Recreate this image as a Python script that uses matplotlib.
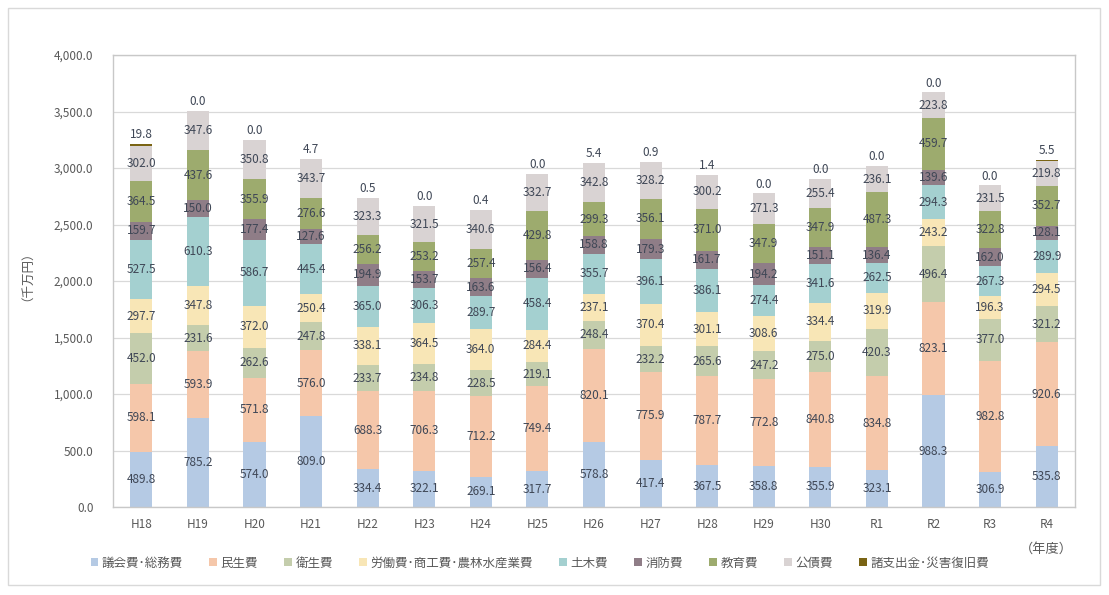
import numpy as np
import matplotlib.pyplot as plt
from matplotlib.patches import Rectangle

plt.rcParams['font.family'] = ['Noto Sans CJK JP', 'DejaVu Sans']

# 年度
years = ["H18", "H19", "H20", "H21", "H22", "H23", "H24", "H25", "H26",
         "H27", "H28", "H29", "H30", "R1", "R2", "R3", "R4"]

# 費目別 (千万円)
gikai_somu = [489.8, 785.2, 574.0, 809.0, 334.4, 322.1, 269.1, 317.7, 578.8,
              417.4, 367.5, 358.8, 355.9, 323.1, 988.3, 306.9, 535.8]
minsei = [598.1, 593.9, 571.8, 576.0, 688.3, 706.3, 712.2, 749.4, 820.1,
          775.9, 787.7, 772.8, 840.8, 834.8, 823.1, 982.8, 920.6]
eisei = [452.0, 231.6, 262.6, 247.8, 233.7, 234.8, 228.5, 219.1, 248.4,
         232.2, 265.6, 247.2, 275.0, 420.3, 496.4, 377.0, 321.2]
rodo_shoko = [297.7, 347.8, 372.0, 250.4, 338.1, 364.5, 364.0, 284.4, 237.1,
              370.4, 301.1, 308.6, 334.4, 319.9, 243.2, 196.3, 294.5]
doboku = [527.5, 610.3, 586.7, 445.4, 365.0, 306.3, 289.7, 458.4, 355.7,
          396.1, 386.1, 274.4, 341.6, 262.5, 294.3, 267.3, 289.9]
shobo = [159.7, 150.0, 177.4, 127.6, 194.9, 153.7, 163.6, 156.4, 158.8,
         179.3, 161.7, 194.2, 151.1, 136.4, 139.6, 162.0, 128.1]
kyoiku = [364.5, 437.6, 355.9, 276.6, 256.2, 253.2, 257.4, 429.8, 299.3,
          356.1, 371.0, 347.9, 347.9, 487.3, 459.7, 322.8, 352.7]
kosai = [302.0, 347.6, 350.8, 343.7, 323.3, 321.5, 340.6, 332.7, 342.8,
         328.2, 300.2, 271.3, 255.4, 236.1, 223.8, 231.5, 219.8]
shoshishutsu = [19.8, 0.0, 0.0, 4.7, 0.5, 0.0, 0.4, 0.0, 5.4,
                0.9, 1.4, 0.0, 0.0, 0.0, 0.0, 0.0, 5.5]

series = [
    ("議会費･総務費", gikai_somu, "#b5cae4"),
    ("民生費", minsei, "#f5c7aa"),
    ("衛生費", eisei, "#c4cdac"),
    ("労働費･商工費･農林水産業費", rodo_shoko, "#f8e6b6"),
    ("土木費", doboku, "#a4d0d0"),
    ("消防費", shobo, "#8f7d87"),
    ("教育費", kyoiku, "#9dab6e"),
    ("公債費", kosai, "#d9d3d3"),
    ("諸支出金･災害復旧費", shoshishutsu, "#7a6414"),
]

txt_color = "#3f4756"

fig = plt.figure(figsize=(11.09, 5.95), dpi=100)
ax = fig.add_axes([113 / 1109, 1 - 507 / 595, 962 / 1109, 452 / 595])

# 外枠
fig.patches.append(Rectangle((8 / 1109, 10 / 595), 1092 / 1109, 577 / 595,
                             transform=fig.transFigure, fill=False,
                             edgecolor="#d9d9d9", linewidth=1.0))

x = np.arange(len(years))
bottom = np.zeros(len(years))
for i, (name, vals, col) in enumerate(series):
    vals = np.array(vals)
    ax.bar(x, vals, 0.39, bottom=bottom, color=col, label=name, zorder=2)
    for xi, b, v in zip(x, bottom, vals):
        if i == len(series) - 1:
            ax.text(xi, b + v + 25, f"{v:.1f}", ha="center", va="bottom",
                    fontsize=8.5, color=txt_color, zorder=3)
        else:
            ax.text(xi, b + v / 2, f"{v:.1f}", ha="center", va="center",
                    fontsize=8.5, color=txt_color, zorder=3)
    bottom += vals

ax.set_xlim(-0.5, len(years) - 0.5)
ax.set_ylim(0, 4000)
ax.set_yticks(np.arange(0, 4001, 500))
ax.set_yticklabels([f"{v:,.1f}" for v in np.arange(0, 4001, 500)])
ax.set_xticks(x)
ax.set_xticklabels(years)
ax.tick_params(axis="both", length=0, labelsize=8.5, colors="#595959")
ax.tick_params(axis="y", pad=14)
ax.tick_params(axis="x", pad=8)
ax.yaxis.grid(True, color="#d9d9d9", linewidth=0.9, zorder=0)
ax.set_axisbelow(True)
for s in ax.spines.values():
    s.set_color("#c8c8c8")
    s.set_linewidth(1.0)

fig.text(21 / 1109, 1 - 270 / 595, "（千万円）", rotation=90, ha="center",
         va="center", fontsize=9, color="#595959")
fig.text(1046 / 1109, 1 - 549 / 595, "（年度）", ha="center", va="center",
         fontsize=9.5, color="#595959")

fig.legend(loc="center", bbox_to_anchor=(540 / 1109, 1 - 563 / 595), ncol=9,
           frameon=False, fontsize=9, handlelength=0.6, handleheight=0.6,
           handletextpad=0.3, columnspacing=2.1, labelcolor="#595959")

fig.savefig("out.png", dpi=100)
